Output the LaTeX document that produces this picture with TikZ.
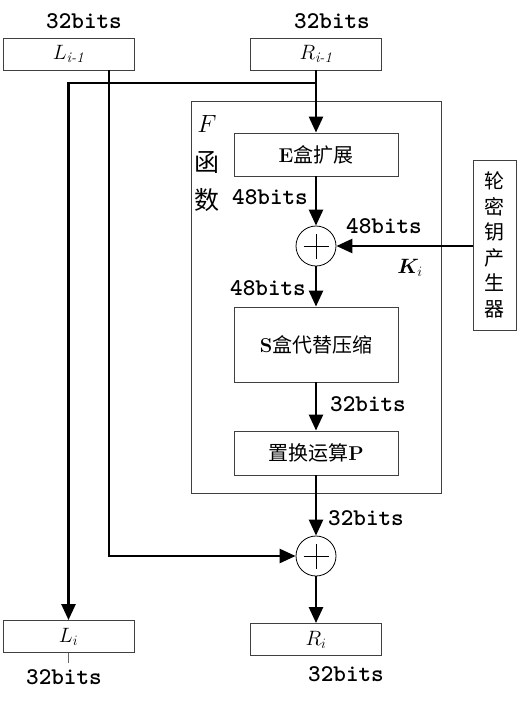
\documentclass[tikz,border=0pt]{standalone}
\usepackage{amsmath}
\usepackage{fontspec}
\usepackage{bm}
\usetikzlibrary{arrows.meta}
\newfontfamily\cjk{Noto Sans CJK SC}

\begin{document}
\begin{tikzpicture}[x=1pt,y=-1pt,
    opbox/.style={draw=black!75,line width=0.9pt,minimum width=164pt,font=\fontsize{20}{24}\selectfont},
    regbox/.style={draw=black!75,line width=0.9pt,minimum width=131pt,minimum height=32pt,font=\fontsize{21}{21}\selectfont},
    xorop/.style={circle,draw,line width=0.8pt,minimum size=40pt,inner sep=0pt,
        path picture={\draw[line width=0.8pt] ([xshift=-12.5pt]path picture bounding box.center)--([xshift=12.5pt]path picture bounding box.center);
                      \draw[line width=0.8pt] ([yshift=-12.5pt]path picture bounding box.center)--([yshift=12.5pt]path picture bounding box.center);}},
    wire/.style={line width=2.6pt},
    flow/.style={wire,-{Triangle[length=16pt,width=14pt]}},
    bits/.style={font=\fontsize{24}{24}\ttfamily\bfseries}]
    \useasboundingbox (0,0) rectangle (521,702);
    % F function frame
    \node[draw=black!75,line width=0.9pt,minimum width=250pt,minimum height=392pt] (Ffunc) at (316,297) {};
    \node[font=\fontsize{26}{26}\selectfont] (Fname) at (207,124) {$F$};
    \node[font=\fontsize{25}{25}\cjk] (Fhan) at (207,162) {函};
    \node[font=\fontsize{25}{25}\cjk] (Fshu) at (207,200) {数};
    % registers
    \node[regbox] (Lprev) at (68.5,54) {$L_{\textit{i-1}}$};
    \node[regbox] (Rprev) at (316,54) {$R_{\textit{i-1}}$};
    \node[regbox] (Li) at (68.5,636.5) {$L_i$};
    \node[regbox] (Ri) at (316,639.5) {$R_i$};
    % round operations
    \node[opbox,minimum height=43pt] (Ebox) at (316,154.5) {\textbf{E}{\cjk 盒扩展}};
    \node[xorop] (xor1) at (316,246) {};
    \node[opbox,minimum height=75pt] (Sbox) at (316,344.5) {\textbf{S}{\cjk 盒代替压缩}};
    \node[opbox,minimum height=44pt] (Pbox) at (316,453) {{\cjk 置换运算}\textbf{P}};
    \node[xorop] (xor2) at (316,556) {};
    \node[draw=black!75,line width=0.9pt,minimum width=43pt,minimum height=170pt,align=center,
          font=\fontsize{20}{25.5}\cjk] (keygen) at (494.5,245) {轮\\密\\钥\\产\\生\\器};
    % wires
    \coordinate (rsplit) at (316,83);
    \coordinate (ltap) at (109,70);
    \draw[flow] (Rprev.south) -- (Ebox.north);
    \draw[flow] (rsplit) -| (Li.north);
    \draw[flow] (ltap) |- (xor2.west);
    \draw[flow] (Ebox) -- (xor1);
    \draw[flow] (xor1) -- (Sbox);
    \draw[flow] (Sbox) -- (Pbox);
    \draw[flow] (Pbox) -- (xor2);
    \draw[flow] (xor2) -- (Ri);
    \draw[flow] (keygen.west |- xor1.east) -- (xor1.east);
    \draw[black!60,line width=0.8pt] (Li.south) -- ++(0,10);
    % widths
    \node[bits] (bLprev) at (84,21) {32bits};
    \node[bits] (bRprev) at (332,21) {32bits};
    \node[bits] (bE) at (270,197) {48bits};
    \node[bits] (bK) at (384,226) {48bits};
    \node[bits] (bX) at (268,288) {48bits};
    \node[bits] (bS) at (368,404) {32bits};
    \node[bits] (bP) at (366,518) {32bits};
    \node[bits] (bLi) at (64,677) {32bits};
    \node[bits] (bRi) at (346,674) {32bits};
    \node[font=\fontsize{21}{21}\selectfont] (Kname) at (410,268) {$\bm{K}_i$};
\end{tikzpicture}
\end{document}
